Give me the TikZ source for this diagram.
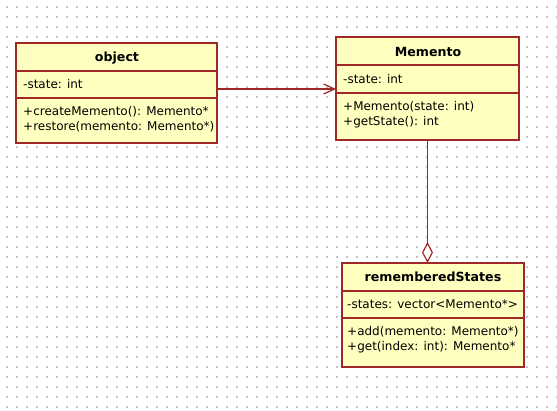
\documentclass[tikz,border=0pt]{standalone}
\usepackage{fontspec}
\setmainfont{DejaVu Sans}
\usetikzlibrary{arrows.meta}
\definecolor{umlred}{RGB}{160,40,40}
\definecolor{umlfill}{RGB}{255,255,192}
\definecolor{dotgray}{RGB}{196,196,196}
\tikzset{
  compartment/.style={draw=umlred, fill=umlfill, line width=1.5pt, anchor=north west, inner sep=0pt, outer sep=0pt},
  classtitle/.style={font=\bfseries\fontsize{12.6}{14}\selectfont, anchor=base, inner sep=0pt},
  member/.style={font=\fontsize{12}{14}\selectfont, anchor=base west, inner sep=0pt},
  assoc/.style={draw=umlred, line width=1.5pt, -{Straight Barb[length=11pt, width=10pt, line width=1.2pt]}},
  aggr/.style={draw=umlred, line width=1.5pt, -{Diamond[open, fill=white, length=21pt, width=11pt, line width=1.2pt]}},
}
\begin{document}
\begin{tikzpicture}[x=1pt, y=-1pt]
\useasboundingbox (0,0) rectangle (557,410);
\fill[white] (0,0) rectangle (557,410);
\foreach \i in {0,...,55} {
  \foreach \j in {0,...,40} {
    \fill[dotgray] (6.4+10*\i, 6.4+10*\j) rectangle ++(1.2,1.2);
  }
}
% object
\node[compartment, minimum width=201pt, minimum height=28pt] (objH) at (16,43) {};
\node[compartment, minimum width=201pt, minimum height=27pt] (objA) at (16,71) {};
\node[compartment, minimum width=201pt, minimum height=45pt] (objM) at (16,98) {};
\node[classtitle] (objT) at (117,61.5) {object};
\node[member] (objA1) at (23,88.5) {-state: int};
\node[member] (objM1) at (23,115) {+createMemento(): Memento*};
\node[member] (objM2) at (23,130) {+restore(memento: Memento*)};
% Memento
\node[compartment, minimum width=183pt, minimum height=28pt] (memH) at (336,37) {};
\node[compartment, minimum width=183pt, minimum height=28pt] (memA) at (336,65) {};
\node[compartment, minimum width=183pt, minimum height=47pt] (memM) at (336,93) {};
\node[classtitle] (memT) at (428,56) {Memento};
\node[member] (memA1) at (343,83) {-state: int};
\node[member] (memM1) at (343,110) {+Memento(state: int)};
\node[member] (memM2) at (343,125) {+getState(): int};
% rememberedStates
\node[compartment, minimum width=182pt, minimum height=28pt] (rsH) at (342,263) {};
\node[compartment, minimum width=182pt, minimum height=27pt] (rsA) at (342,291) {};
\node[compartment, minimum width=182pt, minimum height=49pt] (rsM) at (342,318) {};
\node[classtitle] (rsT) at (433,281.5) {rememberedStates};
\node[member] (rsA1) at (347,308.5) {-states: vector<Memento*>};
\node[member] (rsM1) at (347,335) {+add(memento: Memento*)};
\node[member] (rsM2) at (347,350) {+get(index: int): Memento*};
% connectors
\coordinate (arrS) at ([yshift=-4.5pt]objA.east);
\draw[assoc] (arrS) -- (arrS -| memA.west);
\draw[aggr] (memM.south) -- (memM.south |- rsH.north);
\end{tikzpicture}
\end{document}
